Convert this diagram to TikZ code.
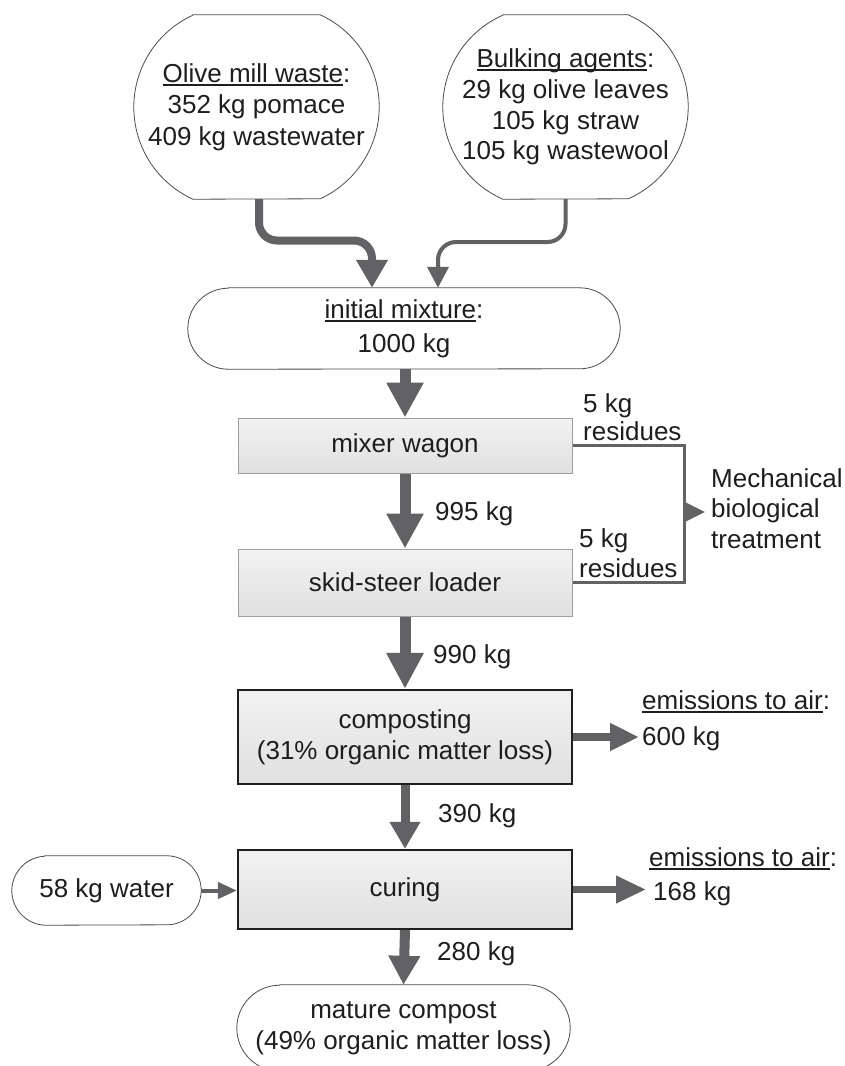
\documentclass[tikz,border=0pt]{standalone}
\usepackage{fontspec}
\setmainfont{Liberation Sans}
\usetikzlibrary{arrows.meta,calc}
\definecolor{flow}{RGB}{98,98,100}
\definecolor{fillTop}{RGB}{242,242,242}
\definecolor{fillBot}{RGB}{224,224,224}
\definecolor{txt}{RGB}{30,30,30}
\newcommand\myul[1]{\leavevmode\setbox0\hbox{#1}\rlap{\rule[-3.6pt]{\wd0}{1.8pt}}\box0}
\newcommand\capsule[3]{%
  \pgfmathsetmacro\capr{(#3*#3+#2*#2)/(2*#2)}%
  \pgfmathsetmacro\capa{atan2(#3,\capr-#2)}%
  \draw[capline] ([xshift=#2pt]#1.north west) -- ([xshift=-#2pt]#1.north east)
     arc[start angle=\capa, end angle=-\capa, radius=\capr pt]
     -- ([xshift=#2pt]#1.south west)
     arc[start angle=180+\capa, end angle=180-\capa, radius=\capr pt] -- cycle;
}
\tikzset{
  every node/.style={font=\fontsize{26}{31}\selectfont, inner sep=0pt, text=txt},
  capnode/.style={rectangle, draw=none, align=center},
  capline/.style={draw=black!70, line width=0.8pt},
  lightbox/.style={rectangle, draw=black!38, line width=1pt, top color=fillTop, bottom color=fillBot, minimum width=334pt},
  darkbox/.style={rectangle, draw=black!88, line width=2.2pt, top color=fillTop, bottom color=fillBot, minimum width=334pt, align=center},
  flowline/.style={draw=flow, line width=#1},
  lbl/.style={anchor=base west},
}
\begin{document}
\begin{tikzpicture}[x=1pt,y=1pt]
\clip (0,0) rectangle (844,-1066);
\fill[white] (0,0) rectangle (844,-1066);

% input capsules
\node[capnode, minimum width=245pt, minimum height=184pt, font=\fontsize{26}{31.5}\selectfont] (olive) at (256.5,-107)
  {\myul{Olive mill waste}:\\352 kg pomace\\409 kg wastewater};
\capsule{olive}{59}{92}
\node[capnode, minimum width=245pt, minimum height=184pt, font=\fontsize{26}{30.7}\selectfont] (bulk) at (565.5,-107)
  {\myul{Bulking agents}:\\29 kg olive leaves\\105 kg straw\\105 kg wastewool};
\capsule{bulk}{60}{92}
\node[capnode, minimum width=432pt, minimum height=81pt, font=\fontsize{26}{34}\selectfont] (mix) at (404,-328.5)
  {\myul{initial mixture}:\\1000 kg};
\capsule{mix}{40.5}{40.5}

% process boxes
\node[lightbox, minimum height=55pt] (wagon) at (405,-445.5) {mixer wagon};
\node[lightbox, minimum height=67pt] (skid) at (405,-582.5) {skid-steer loader};
\node[darkbox, minimum height=94pt] (compost) at (405,-737) {composting\\(31\% organic matter loss)};
\node[darkbox, minimum height=79pt] (curing) at (405,-889.5) {curing};

\node[capnode, minimum width=189pt, minimum height=69pt] (water) at (106.5,-890.5) {58 kg water};
\capsule{water}{33}{34.5}
\node[capnode, minimum width=333pt, minimum height=86pt] (mature) at (403.5,-1028)
  {mature compost\\(49\% organic matter loss)};
\capsule{mature}{43}{43}

% side labels (anchored at the baseline of their last line)
\node[lbl, align=left, font=\fontsize{26}{28}\selectfont] (res1) at (583,-440) {5 kg\\residues};
\node[lbl, align=left, font=\fontsize{26}{30}\selectfont] (res2) at (579,-577) {5 kg\\residues};
\node[lbl, align=left, inner xsep=6pt, font=\fontsize{26}{30.5}\selectfont] (mbt) at (705,-548) {Mechanical\\biological\\treatment};
\node[lbl, align=left, inner xsep=3pt, font=\fontsize{26}{36}\selectfont] (em1) at (639,-745) {\myul{emissions to air}:\\600 kg};
\node[lbl, align=left, inner xsep=3pt, font=\fontsize{26}{34}\selectfont] (em2) at (646,-900) {\myul{emissions to air}:\\\hspace*{4pt}168 kg};

\node[lbl] (l995) at (435,-520) {995 kg};
\node[lbl] (l990) at (433,-663) {990 kg};
\node[lbl] (l390) at (438,-822) {390 kg};
\node[lbl] (l280) at (437,-960) {280 kg};

% flows
\coordinate (j1) at (372,-240.5);
\coordinate (j2) at (438,-242);
\draw[flowline=8pt, rounded corners=18pt, -{Triangle[length=28pt,width=30pt]}]
  ([xshift=2.5pt]olive.south) |- (j1) -- (j1 |- mix.north);
\draw[flowline=4pt, rounded corners=18pt, -{Triangle[length=21pt,width=21pt]}]
  (bulk.south) |- (j2) -- (j2 |- mix.north);

\draw[flowline=11pt, -{Triangle[length=35pt,width=35pt]}] (wagon.north |- mix.south) -- (wagon.north);
\draw[flowline=11pt, -{Triangle[length=35pt,width=35pt]}] (wagon.south) -- (skid.north);
\draw[flowline=11pt, -{Triangle[length=36pt,width=35pt]}] (skid.south) -- (compost.north);
\draw[flowline=9pt, -{Triangle[length=27pt,width=29pt]}] (compost.south) -- (curing.north);
\draw[flowline=10pt, -{Triangle[length=29pt,width=30pt]}] (curing.south) -- (mature.north);

\draw[flowline=8pt, -{Triangle[length=29pt,width=26pt]}] (compost.east) -- (compost.east -| em1.west);
\draw[flowline=7pt, -{Triangle[length=30pt,width=26pt]}] (curing.east) -- (curing.east -| em2.west);
\draw[flowline=4pt, -{Triangle[length=19pt,width=16pt]}] (water.east) -- (water.east -| curing.west);

\coordinate (rj) at (684,-512);
\draw[flowline=3pt] (wagon.east) -| (rj) |- (skid.east);
\draw[flowline=3pt, -{Triangle[length=19pt,width=18pt]}] (rj) -- (rj -| mbt.west);
\end{tikzpicture}
\end{document}
